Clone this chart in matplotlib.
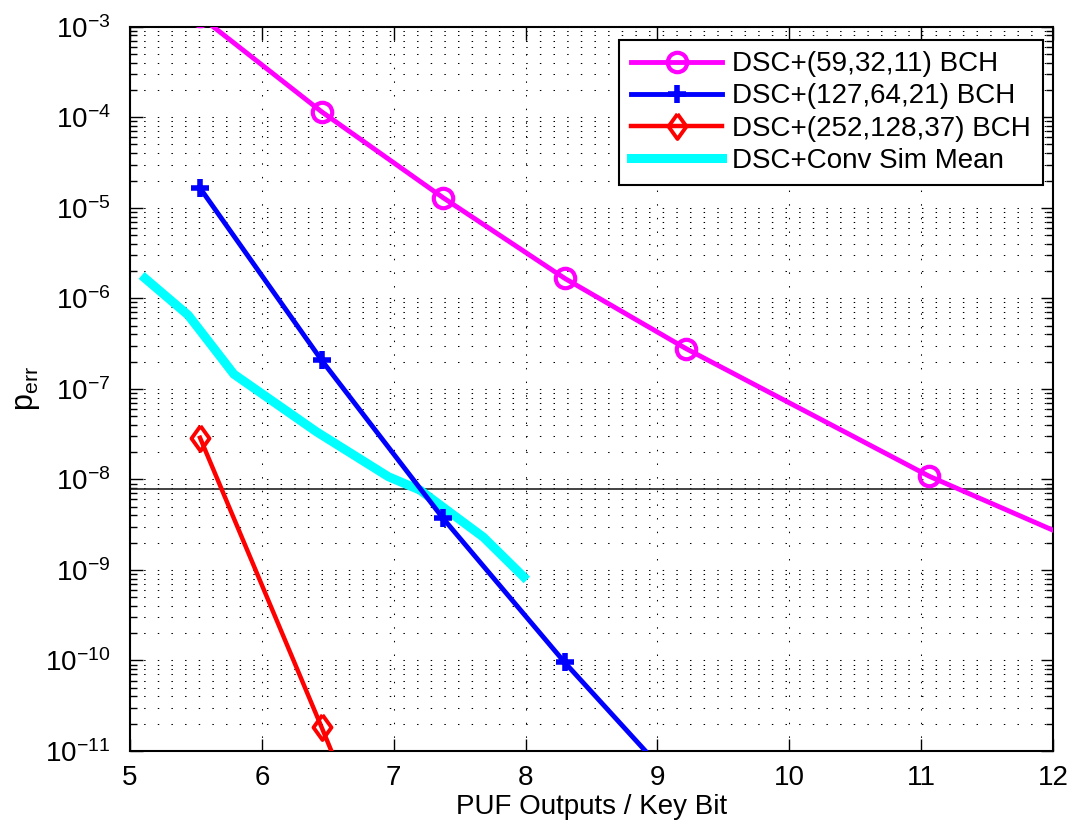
import numpy as np
import matplotlib
matplotlib.use("Agg")
import matplotlib.pyplot as plt
from matplotlib.ticker import LogLocator, FixedLocator, NullFormatter

plt.rcParams['font.family'] = ['Liberation Sans', 'DejaVu Sans']
plt.rcParams['mathtext.default'] = 'regular'
plt.rcParams['mathtext.fontset'] = 'custom'
plt.rcParams['mathtext.rm'] = 'Liberation Sans'

# Outputs per key bit (m * 59/64) and error probabilities
x_bch59 = [5.531, 6.453, 7.375, 8.297, 9.219, 11.063, 12.906]
y_bch59 = [1.3e-3, 1.15e-4, 1.29e-5, 1.66e-6, 2.77e-7, 1.08e-8, 7.3e-10]

x_bch127 = [5.531, 6.453, 7.375, 8.297, 9.219]
y_bch127 = [1.65e-5, 2.07e-7, 3.7e-9, 9.5e-11, 3.2e-12]

x_bch252 = [5.531, 6.453, 7.375]
y_bch252 = [2.88e-8, 1.83e-11, 1.0e-14]

x_conv = [5.114, 5.442, 5.788, 6.415, 6.96, 7.2, 7.68, 7.985]
y_conv = [1.66e-6, 6.5e-7, 1.45e-7, 3.35e-8, 1.07e-8, 7.6e-9, 2.3e-9, 8.4e-10]

p_target = 7.8e-9

x_ticks = [5, 6, 7, 8, 9, 10, 11, 12]
y_ticks = [1e-11, 1e-10, 1e-9, 1e-8, 1e-7, 1e-6, 1e-5, 1e-4, 1e-3]

labels = ['DSC+(59,32,11) BCH', 'DSC+(127,64,21) BCH',
          'DSC+(252,128,37) BCH', 'DSC+Conv Sim Mean']

# diamond a little narrower than a square one
diamond = [(0, 1), (0.72, 0), (0, -1), (-0.72, 0), (0, 1)]

fig = plt.figure(figsize=(10.71, 8.26), dpi=100)
ax = fig.add_axes([0.1214, 0.0908, 0.8618, 0.8769])
ax.set_yscale('log')
ax.set_xlim(x_ticks[0], x_ticks[-1])
ax.set_ylim(y_ticks[0], y_ticks[-1])

dot = (0, (1.4, 11.7))
ax.xaxis.set_major_locator(FixedLocator(x_ticks))
ax.yaxis.set_major_locator(FixedLocator(y_ticks))
ax.yaxis.set_minor_locator(LogLocator(base=10, subs=np.arange(2, 10), numticks=20))
ax.yaxis.set_minor_formatter(NullFormatter())
ax.grid(True, which='major', axis='x', color='k', lw=0.75, linestyle=dot)
ax.grid(True, which='both', axis='y', color='k', lw=0.75, linestyle=dot)
ax.set_axisbelow(True)

ax.axhline(p_target, color='#222222', lw=1.2, zorder=1.5)

ax.plot(x_bch59, y_bch59, color='#FF00FF', lw=3.5, marker='o', ms=14,
        mfc='none', mew=3, label=labels[0], zorder=3)
ax.plot(x_bch127, y_bch127, color='#0000FF', lw=3.5, marker='+', ms=13,
        mew=4, label=labels[1], zorder=3)
ax.plot(x_bch252, y_bch252, color='#FF0000', lw=3.2, marker=diamond, ms=18,
        mfc='none', mew=2.8, label=labels[2], zorder=3)
ax.plot(x_conv, y_conv, color='#00FFFF', lw=6.5, label=labels[3], zorder=2.5)

ax.tick_params(which='both', direction='in', top=True, right=True,
               labelsize=20, width=1.0)
ax.tick_params(axis='x', pad=10)
ax.tick_params(axis='y', pad=14)
ax.tick_params(which='major', length=9)
ax.tick_params(which='minor', length=5)
for s in ax.spines.values():
    s.set_linewidth(1.5)

ax.set_xlabel('PUF Outputs / Key Bit', fontsize=20, labelpad=2)
ax.set_ylabel(r'$\mathdefault{p_{err}}$', fontsize=22, labelpad=2)

leg = ax.legend(loc='upper right', bbox_to_anchor=(0.989, 0.982),
                borderaxespad=0, fontsize=20, handlelength=3.3,
                labelspacing=0.22, borderpad=0.42, handletextpad=0.36,
                fancybox=False, framealpha=1, edgecolor='k')
leg.get_frame().set_linewidth(1.5)

fig.savefig('out.png', dpi=100)
